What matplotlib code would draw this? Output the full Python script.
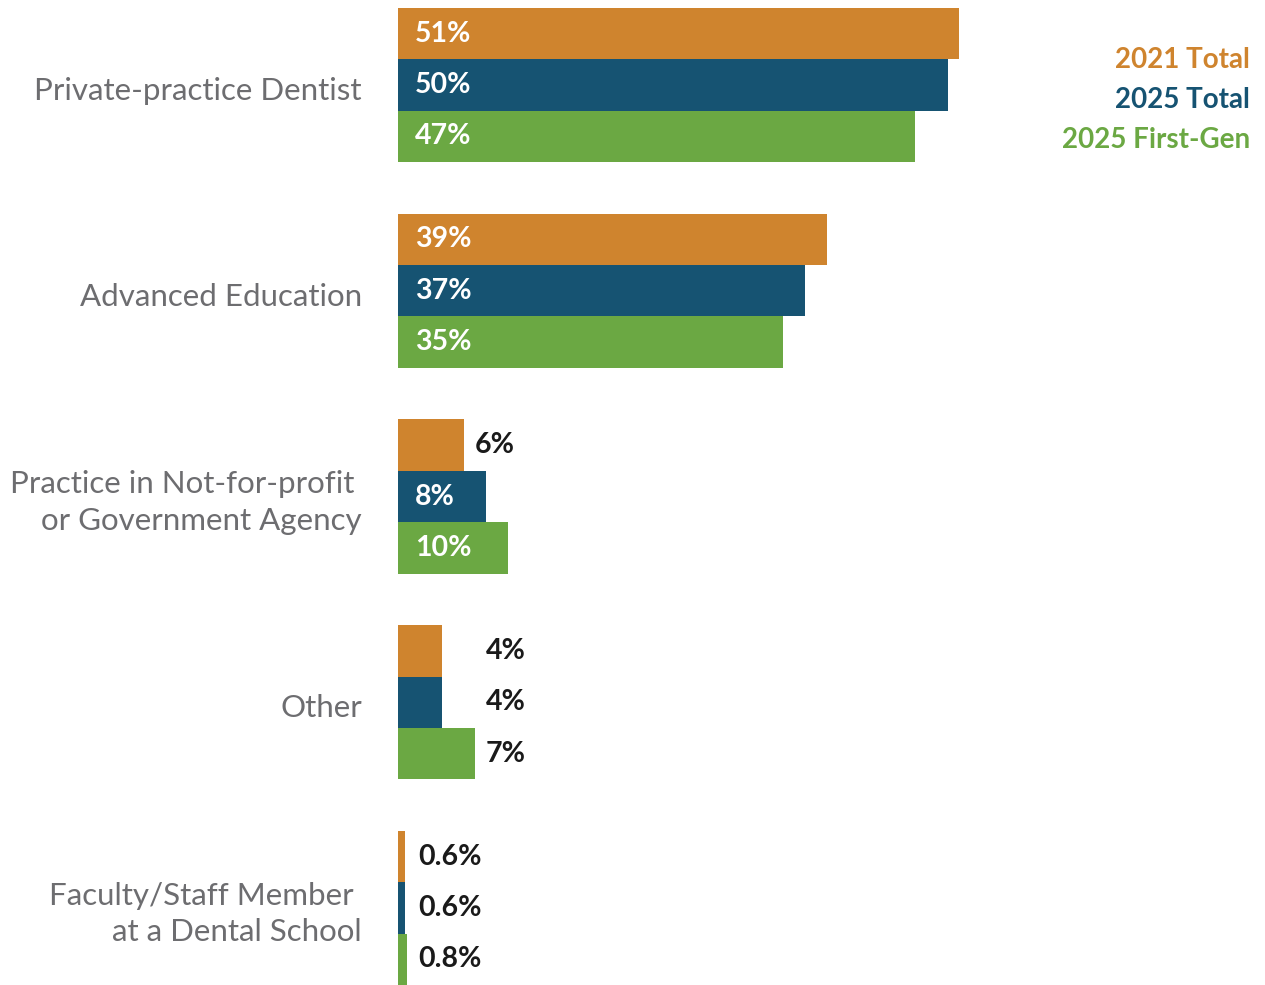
import matplotlib
matplotlib.use("Agg")
import matplotlib.pyplot as plt

# data
categories = ["Private-practice Dentist",
              "Advanced Education",
              "Practice in Not-for-profit \nor Government Agency",
              "Other",
              "Faculty/Staff Member \nat a Dental School"]
series_names = ["2021 Total", "2025 Total", "2025 First-Gen"]
total_2021 = [51, 39, 6, 4, 0.6]
total_2025 = [50, 37, 8, 4, 0.6]
first_gen_2025 = [47, 35, 10, 7, 0.8]
value_labels = [["51%", "39%", "6%", "4%", "0.6%"],
                ["50%", "37%", "8%", "4%", "0.6%"],
                ["47%", "35%", "10%", "7%", "0.8%"]]

colors = ["#CF842E", "#165372", "#6BA843"]
W, H = 1265, 985
px_per_pct = 11.0
unit_px = 51.44          # pixel height of one bar
grp_gap = 4.0            # group spacing in bar units

fig = plt.figure(figsize=(W / 100, H / 100), dpi=100)
ax_left = 398
ax = fig.add_axes([ax_left / W, 0, (W - ax_left) / W, 1])
ax.set_xlim(0, (W - ax_left) / px_per_pct)
ax.set_ylim(-(985 - 85) / unit_px, 85 / unit_px)
ax.axis("off")

series = [total_2021, total_2025, first_gen_2025]
pct_px = 1.0 / px_per_pct  # one pixel in data x units

for g, cat in enumerate(categories):
    yc = -grp_gap * g
    offsets = [1, 0, -1]
    outside = [s[g] < 8 for s in series]
    out_x = max([s[g] for s, o in zip(series, outside) if o], default=0) + 11 * pct_px
    for k, s in enumerate(series):
        y = yc + offsets[k]
        ax.barh(y, s[g], height=1.0, color=colors[k], linewidth=0)
        if outside[k]:
            ax.text(out_x, y, value_labels[k][g], ha="left", va="center",
                    color="#1a1a1a", fontsize=20.5, fontweight="bold", family="Lato")
        else:
            ax.text(17 * pct_px, y, value_labels[k][g], ha="left", va="center",
                    color="white", fontsize=20.5, fontweight="bold", family="Lato")
    fig.text(362 / W, 1 - (85 + 205.75 * g + 6) / H, cat, ha="right", va="center",
             multialignment="right", color="#6d6d70", fontsize=22.5, family="Lato",
             linespacing=1.35)

# legend as coloured text
for k, name in enumerate(series_names):
    fig.text(1250 / W, 1 - (60 + 40 * k) / H, name, ha="right", va="center",
             color=colors[k], fontsize=20, fontweight="bold", family="Lato")

fig.savefig("out.png", dpi=100, facecolor="white")
